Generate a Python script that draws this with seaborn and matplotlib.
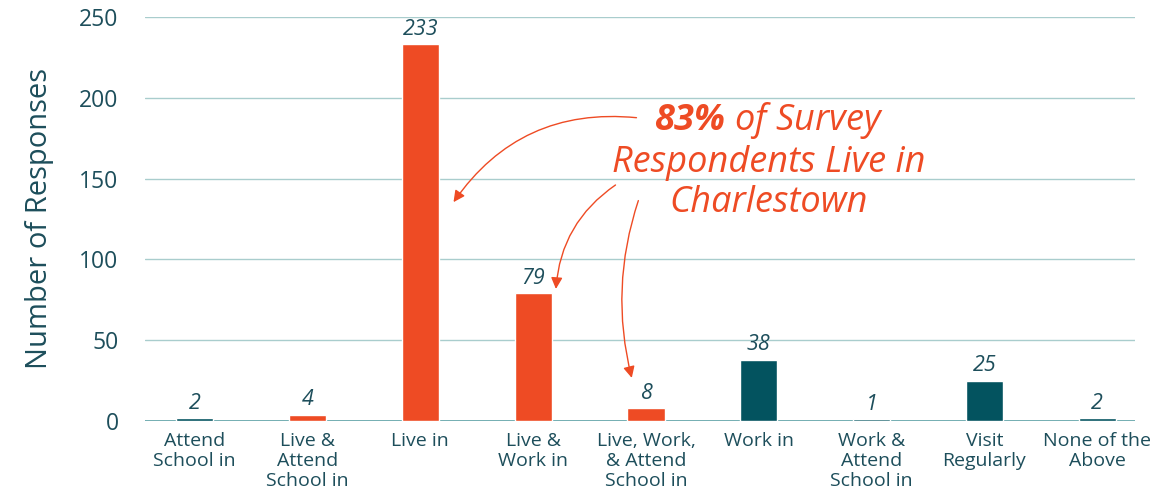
import numpy as np
import matplotlib.pyplot as plt
import seaborn as sns

categories = ["Attend\nSchool in", "Live &\nAttend\nSchool in", "Live in",
              "Live &\nWork in", "Live, Work,\n& Attend\nSchool in", "Work in",
              "Work &\nAttend\nSchool in", "Visit\nRegularly", "None of the\nAbove"]
responses = [2, 4, 233, 79, 8, 38, 1, 25, 2]
lives_in = [False, True, True, True, True, False, False, False, False]

orange = "#EE4B24"
teal = "#03535F"
text_col = "#1D4E5B"
grid_col = "#A9CDCD"

sns.set_style("white")
plt.rcParams['font.family'] = ['Open Sans', 'DejaVu Sans']
plt.rcParams['mathtext.fontset'] = 'custom'
plt.rcParams['mathtext.bf'] = 'Open Sans:bold:italic'
plt.rcParams['mathtext.it'] = 'Open Sans:italic'
plt.rcParams['mathtext.rm'] = 'Open Sans:italic'

fig = plt.figure(figsize=(11.53, 4.99), dpi=100)
ax = fig.add_axes([0.1258, 0.1563, 0.8582, 0.8097])

colors = [orange if l else teal for l in lives_in]
sns.barplot(x=categories, y=responses, hue=categories, palette=colors,
            legend=False, width=0.33, saturation=1, ax=ax)

for c in ax.containers:
    ax.bar_label(c, fontsize=15.5, style="italic", color=text_col, padding=3)

ax.set_ylim(0, 250)
ax.set_xlim(-0.44, 8.33)
ax.set_yticks([0, 50, 100, 150, 200, 250])
ax.yaxis.grid(True, color=grid_col, lw=1)
ax.set_axisbelow(True)
ax.axhline(0, color="#4E9A9F", lw=1.2, zorder=0.5)
sns.despine(ax=ax, left=True, bottom=True, top=True, right=True)
ax.tick_params(axis="y", length=0, pad=19, labelsize=16.5, labelcolor=text_col)
ax.tick_params(axis="x", length=0, pad=8, labelsize=14, labelcolor=text_col)
for t in ax.get_xticklabels():
    t.set_linespacing(1.15)
ax.set_ylabel("Number of Responses", fontsize=21, color=text_col, labelpad=18)
ax.set_xlabel("")

ax.text(5.09, 161, "$\\mathbf{83\\%}$ of Survey\nRespondents Live in\nCharlestown",
        ha="center", va="center", fontsize=26, style="italic", color=orange,
        linespacing=1.15)

arrow = dict(arrowstyle="-|>", color=orange, lw=1, mutation_scale=17)
ax.annotate("", xy=(2.28, 134), xytext=(3.94, 187.5),
            arrowprops=dict(arrow, connectionstyle="arc3,rad=0.3"))
ax.annotate("", xy=(3.2, 80), xytext=(3.75, 147),
            arrowprops=dict(arrow, connectionstyle="arc3,rad=0.25"))
ax.annotate("", xy=(3.88, 25), xytext=(3.94, 138),
            arrowprops=dict(arrow, connectionstyle="arc3,rad=0.15"))

fig.savefig("out.png", dpi=100)
